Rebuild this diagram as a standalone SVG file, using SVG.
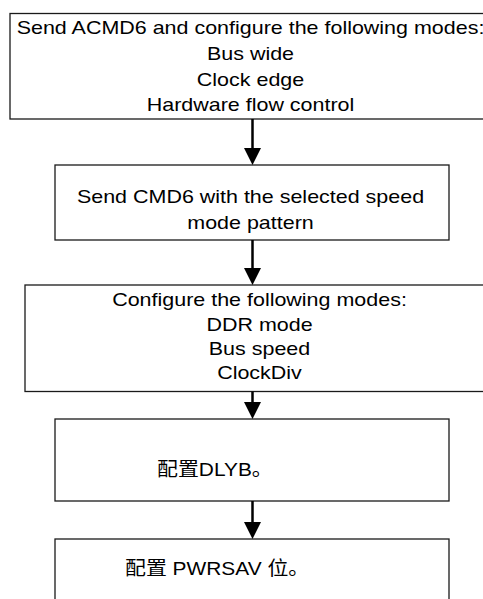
<svg xmlns="http://www.w3.org/2000/svg" width="483" height="599" viewBox="0 0 483 599">
<style>
.box{fill:#fff;stroke:#1a1a1a;stroke-width:1.3}
.t{font-family:"Liberation Sans","Noto Sans CJK SC",Arial,sans-serif;font-size:19px;fill:#000}
.c{text-anchor:middle}
.conn line{stroke:#000;stroke-width:2.5}
</style>
<defs>
<marker id="ah" viewBox="0 0 17 17" refX="12" refY="8.5" markerWidth="17" markerHeight="17" markerUnits="userSpaceOnUse" orient="auto">
<path d="M0,0 L17,8.5 L0,17 z" fill="#000"/>
</marker>
</defs>
<rect width="483" height="599" fill="#fff"/>
<g id="n1">
<rect class="box" x="10" y="13.5" width="480" height="105.5"/>
<g transform="translate(250.5,0) scale(1.13,1)">
<text class="t c" x="0" y="34">Send ACMD6 and configure the following modes:</text>
<text class="t c" x="0" y="60.5">Bus wide</text>
<text class="t c" x="0" y="86">Clock edge</text>
<text class="t c" x="0" y="111.5">Hardware flow control</text>
</g>
</g>
<g id="n2">
<rect class="box" x="55" y="165" width="394" height="75"/>
<g transform="translate(250.5,0) scale(1.13,1)">
<text class="t c" x="0" y="203.5">Send CMD6 with the selected speed</text>
<text class="t c" x="0" y="229">mode pattern</text>
</g>
</g>
<g id="n3">
<rect class="box" x="25" y="285" width="470" height="106.5"/>
<g transform="translate(259.5,0) scale(1.13,1)">
<text class="t c" x="0" y="306.5">Configure the following modes:</text>
<text class="t c" x="0" y="331">DDR mode</text>
<text class="t c" x="0" y="355.5">Bus speed</text>
<text class="t c" x="0" y="379.5">ClockDiv</text>
</g>
</g>
<g id="n4">
<rect class="box" x="55" y="419" width="394" height="82"/>
<g transform="translate(157,0) scale(1.1,1)">
<text class="t" x="0" y="476">配置DLYB。</text>
</g>
</g>
<g id="n5">
<rect class="box" x="55" y="539" width="394" height="80"/>
<g transform="translate(125,0) scale(1.1,1)">
<text class="t" x="0" y="575">配置 PWRSAV 位。</text>
</g>
</g>
<g id="connectors" class="conn">
<line x1="252.5" y1="119" x2="252.5" y2="160" marker-end="url(#ah)"/>
<line x1="252.5" y1="240" x2="252.5" y2="280" marker-end="url(#ah)"/>
<line x1="252.5" y1="391.5" x2="252.5" y2="414" marker-end="url(#ah)"/>
<line x1="252.5" y1="501" x2="252.5" y2="534" marker-end="url(#ah)"/>
</g>
</svg>
